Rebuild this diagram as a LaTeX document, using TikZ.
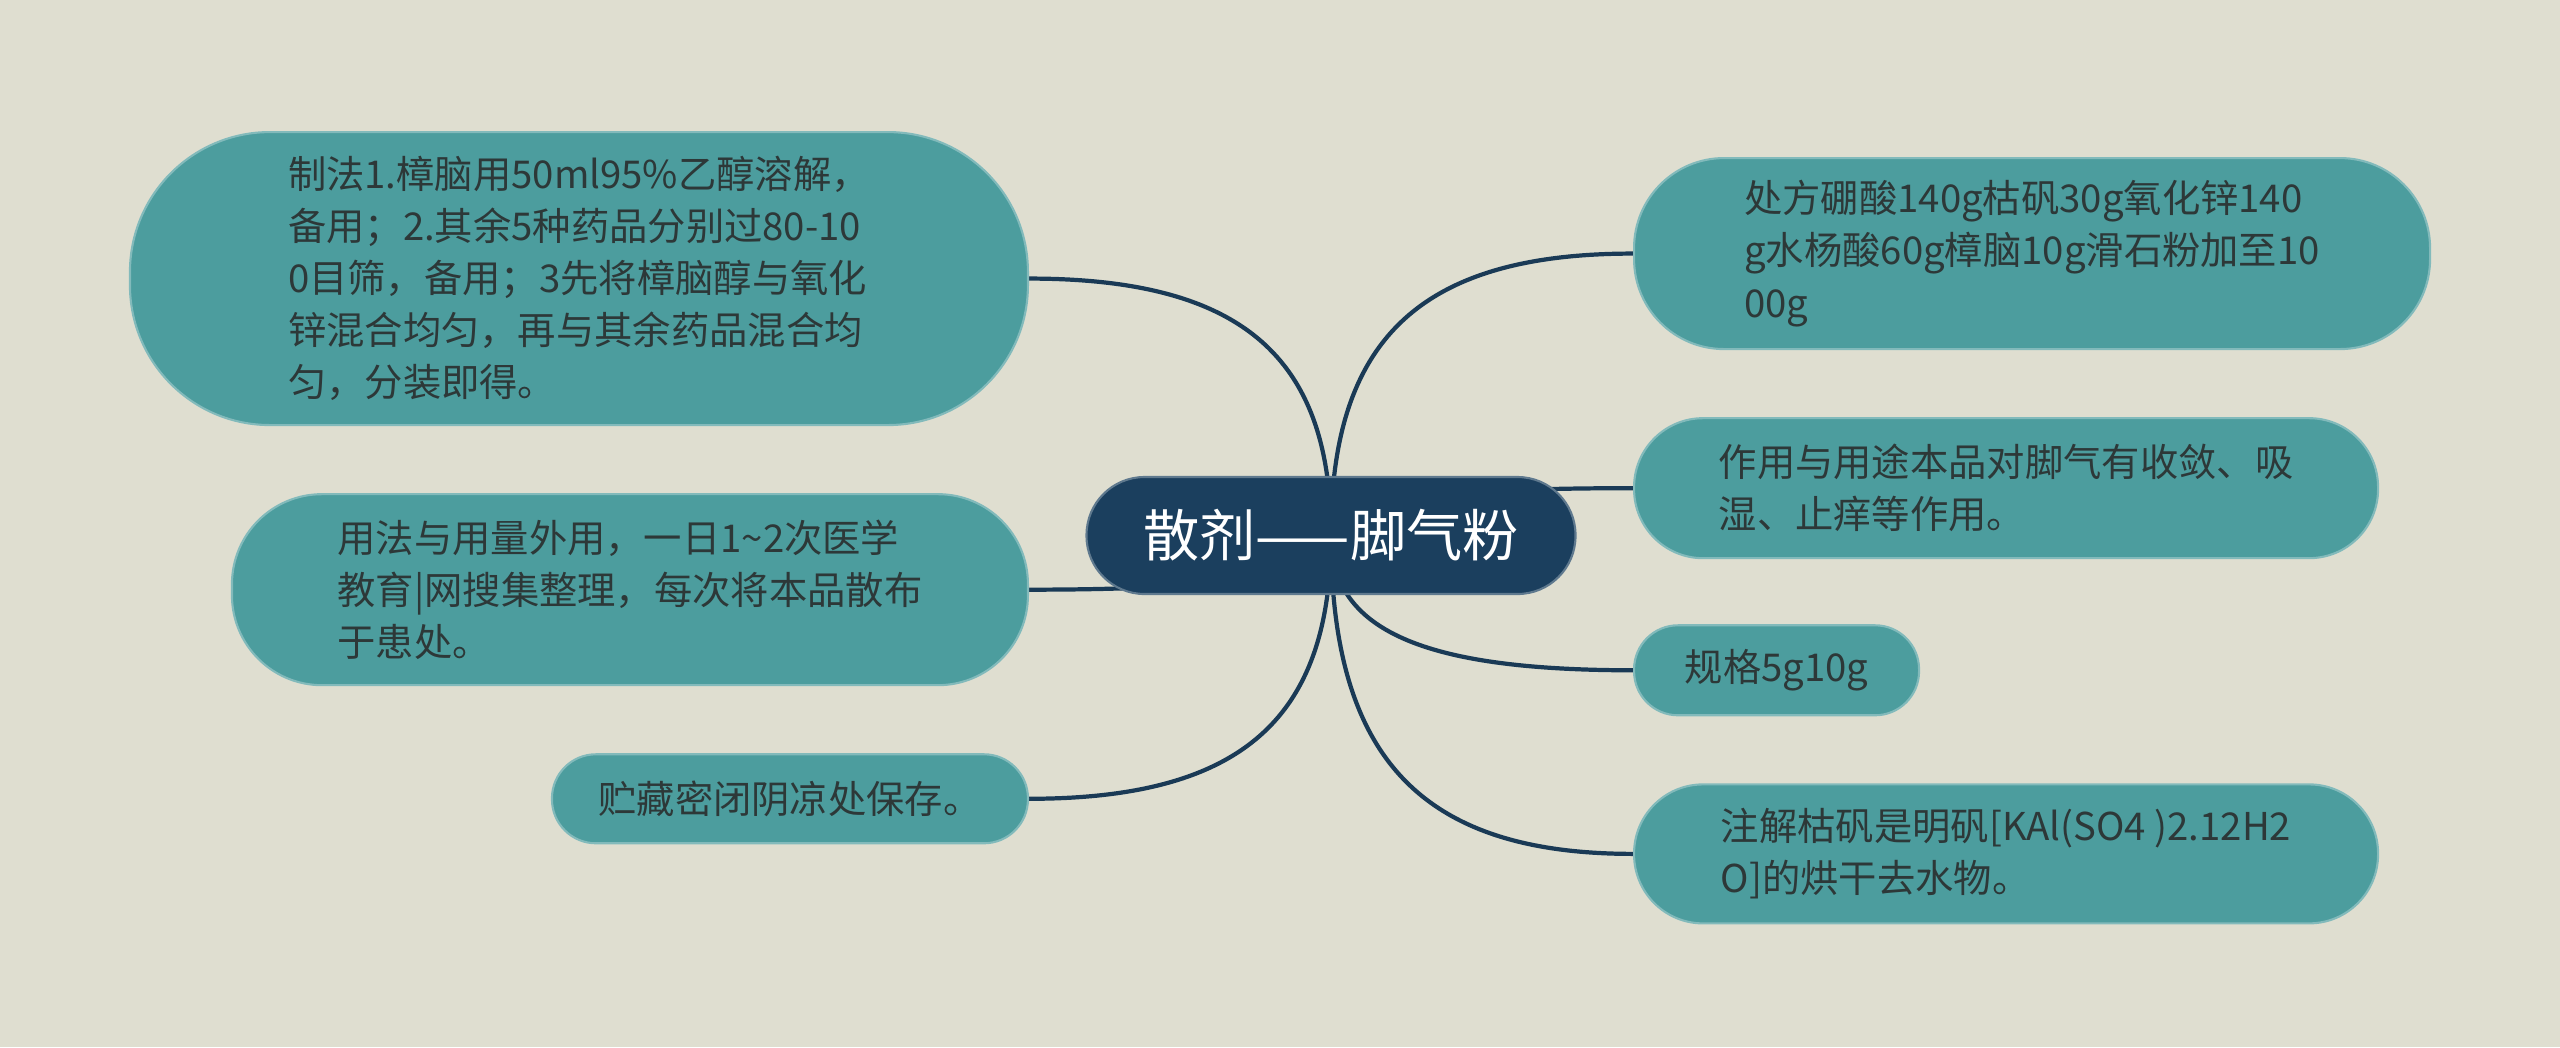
\documentclass[tikz,border=0pt]{standalone}
\usepackage{fontspec}
\newfontfamily\cjkfont{Noto Sans CJK SC}
\usepackage{tikz}
\usetikzlibrary{positioning,calc,backgrounds}
\definecolor{Canvas}{HTML}{DFDED0}
\definecolor{LeafTeal}{HTML}{4C9D9E}
\definecolor{RootBlue}{HTML}{1B3F5E}
\definecolor{LinkNavy}{HTML}{1A3A56}
\definecolor{LeafText}{HTML}{2D3838}

\begin{document}
\begin{tikzpicture}[
  leaf/.style={
    draw=LeafTeal!70!white,
    line width=0.6pt,
    fill=LeafTeal,
    text=LeafText,
    inner sep=0pt,
    align=left,
    font=\cjkfont\fontsize{10.9}{14.8}\selectfont
  },
  rootnode/.style={
    draw=RootBlue!70!white,
    line width=0.6pt,
    fill=RootBlue,
    text=white,
    inner sep=0pt,
    minimum width=4.89cm,
    minimum height=1.17cm,
    rounded corners=0.58cm,
    font=\cjkfont\fontsize{16}{19}\selectfont
  },
  link/.style={
    draw=LinkNavy,
    line width=1.2pt,
    to path={.. controls ($(\tikztostart)!0.7!(\tikztostart |- \tikztotarget)$)
      and ($(\tikztotarget)!0.7!(\tikztostart |- \tikztotarget)$) .. (\tikztotarget)}
  }
]

\useasboundingbox (0,0) rectangle (25.6,-10.47);
\begin{scope}[on background layer]
  \fill[Canvas] (0,0) rectangle (25.6,-10.47);
\end{scope}

\node[rootnode] (root) at (13.31,-5.355) {散剂——脚气粉};

% left side
\node[leaf,minimum width=8.98cm,minimum height=2.93cm,rounded corners=1.4cm,anchor=north east] (zhifa) at (10.29,-1.31)
  {制法1.樟脑用50ml95\%乙醇溶解，\\备用；2.其余5种药品分别过80-10\\0目筛，备用；3先将樟脑醇与氧化\\锌混合均匀，再与其余药品混合均\\匀，分装即得。};
\node[leaf,minimum width=7.96cm,minimum height=1.91cm,rounded corners=0.9cm,below left=0.67cm and 0cm of zhifa.south east] (yongfa)
  {用法与用量外用，一日1\textasciitilde2次医学\\教育|网搜集整理，每次将本品散布\\于患处。};
\node[leaf,minimum width=4.76cm,minimum height=0.89cm,rounded corners=0.44cm,below left=0.67cm and 0cm of yongfa.south east] (zhucang)
  {贮藏密闭阴凉处保存。};

% right side
\node[leaf,minimum width=7.96cm,minimum height=1.91cm,rounded corners=0.9cm,anchor=north west] (chufang) at (16.33,-1.57)
  {处方硼酸140g枯矾30g氧化锌140\\g水杨酸60g樟脑10g滑石粉加至10\\00g};
\node[leaf,minimum width=7.44cm,minimum height=1.40cm,rounded corners=0.69cm,below right=0.67cm and 0cm of chufang.south west] (zuoyong)
  {作用与用途本品对脚气有收敛、吸\\湿、止痒等作用。};
\node[leaf,minimum width=2.85cm,minimum height=0.90cm,rounded corners=0.44cm,below right=0.65cm and 0cm of zuoyong.south west] (guige)
  {规格5g10g};
\node[leaf,minimum width=7.44cm,minimum height=1.39cm,rounded corners=0.69cm,below right=0.67cm and 0cm of guige.south west] (zhujie)
  {注解枯矾是明矾[KAl(SO4 )2.12H2\\O]的烘干去水物。};

\begin{scope}[on background layer]
  \draw[link] (root.center) to (zhifa.east);
  \draw[link] (root.center) to (yongfa.east);
  \draw[link] (root.center) to (zhucang.east);
  \draw[link] (root.center) to (chufang.west);
  \draw[link] (root.center) to (zuoyong.west);
  \draw[link] (root.center) to (guige.west);
  \draw[link] (root.center) to (zhujie.west);
\end{scope}

\end{tikzpicture}
\end{document}
